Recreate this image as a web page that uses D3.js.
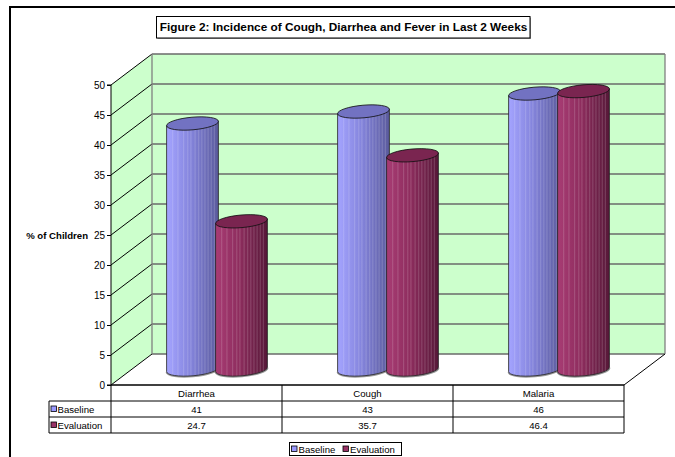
<!DOCTYPE html>
<html><head><meta charset="utf-8">
<script src="https://cdn.jsdelivr.net/npm/d3@7"></script>
<style>body{margin:0;background:#fff}svg{display:block}text{font-family:"Liberation Sans",Arial,sans-serif}</style>
</head><body><svg id="c" width="675" height="457"></svg>
<script>
const title = "Figure 2: Incidence of Cough, Diarrhea and Fever in Last 2 Weeks";
const categories = ["Diarrhea", "Cough", "Malaria"];
const seriesNames = ["Baseline", "Evaluation"];
const baseline = [41, 43, 46];
const evaluation = [24.7, 35.7, 46.4];
const yTicks = [0, 5, 10, 15, 20, 25, 30, 35, 40, 45, 50];
const yLabel = "% of Children";

const seriesValues = [baseline, evaluation];
const colors = {
  Baseline: {light:"#a4a4ff", mid:"#8585dd", dark:"#5a5a9c", top:"#7272c2", key:"#9999ff"},
  Evaluation: {light:"#a83c74", mid:"#8e2d5e", dark:"#561838", top:"#7a2550", key:"#993366"}
};

const svg = d3.select("#c");
const defs = svg.append("defs");
const DX = 41, DY = 31;
const y = d3.scaleLinear().domain([0, 50]).range([385, 85]);
const x = d3.scaleBand().domain(categories).range([111, 624]);
const xs = d3.scaleBand().domain(seriesNames).range([-49, 49]);

// outer frame
svg.append("rect").attr("x",10).attr("y",7).attr("width",700).attr("height",500)
  .attr("fill","none").attr("stroke","#000").attr("stroke-width",2);

// back wall
const left = x.range()[0], right = x.range()[1];
svg.append("rect").attr("x",left+DX).attr("y",y(50)-DY).attr("width",right-left)
  .attr("height",y(0)-y(50)).attr("fill","#ccffcc");
// side wall
svg.append("path").attr("d",`M${left},${y(50)}L${left+DX},${y(50)-DY}L${left+DX},${y(0)-DY}L${left},${y(0)}Z`)
  .attr("fill","#ccffcc");
// floor
svg.append("path").attr("d",`M${left},${y(0)}L${left+DX},${y(0)-DY}L${right+DX},${y(0)-DY}L${right},${y(0)}Z`)
  .attr("fill","#fff");

// back gridlines
svg.append("g").selectAll("line").data(yTicks).join("line")
  .attr("x1",left+DX).attr("x2",right+DX).attr("y1",d=>y(d)-DY).attr("y2",d=>y(d)-DY)
  .attr("stroke","#6a6a6a").attr("stroke-width",1.3);
// side gridlines
svg.append("g").selectAll("line").data(yTicks).join("line")
  .attr("x1",left).attr("x2",left+DX).attr("y1",d=>y(d)).attr("y2",d=>y(d)-DY)
  .attr("stroke","#000").attr("stroke-width",1);
// wall edges
svg.append("line").attr("x1",left+DX).attr("x2",left+DX).attr("y1",y(50)-DY).attr("y2",y(0)-DY)
  .attr("stroke","#808080").attr("stroke-width",1.3);
svg.append("line").attr("x1",right+DX).attr("x2",right+DX).attr("y1",y(50)-DY).attr("y2",y(0)-DY)
  .attr("stroke","#808080").attr("stroke-width",1.3);
svg.append("line").attr("x1",right).attr("x2",right+DX).attr("y1",y(0)).attr("y2",y(0)-DY)
  .attr("stroke","#000").attr("stroke-width",1);

// y axis
const yAxis = d3.axisLeft(y).tickValues(yTicks).tickSize(4).tickPadding(2);
const ga = svg.append("g").attr("transform",`translate(${left},0)`).call(yAxis);
ga.select(".domain").attr("stroke","#000").attr("d",`M-4,${y(50)}H0V${y(0)}H-4`);
ga.selectAll("text").attr("font-size",10).attr("font-family","Liberation Sans, Arial, sans-serif").attr("fill","#000");
ga.selectAll("line").attr("stroke","#000");

svg.append("text").attr("x",88).attr("y",y(25)+4).attr("text-anchor","end")
  .attr("font-size",9.6).attr("font-weight","bold").text(yLabel);

// gradients
seriesNames.forEach((s,i)=>{
  const g = defs.append("linearGradient").attr("id","grad"+i).attr("x1",0).attr("x2",1).attr("y1",0).attr("y2",0);
  g.append("stop").attr("offset","0%").attr("stop-color",colors[s].light);
  g.append("stop").attr("offset","45%").attr("stop-color",colors[s].mid);
  g.append("stop").attr("offset","100%").attr("stop-color",colors[s].dark);
});

// cylinders
const RX = 26, RY = 6.3, TH = -5 * Math.PI/180;
const stripeFr = [0.12,0.22,0.33,0.41,0.47,0.55,0.62,0.68,0.74,0.8,0.86,0.92];
const bars = [];
categories.forEach((c,ci)=>{
  seriesNames.forEach((s,si)=>{
    bars.push({c, s, si, v: seriesValues[si][ci]});
  });
});
const gb = svg.append("g");
bars.forEach((b,k)=>{
  const cx = x(b.c) + x.bandwidth()/2 + DX/2 + xs(b.s) + xs.bandwidth()/2;
  const ty = y(b.v) - DY/2, by = y(0) - DY/2;
  const ox = RX*Math.cos(TH), oy = RX*Math.sin(TH);
  const rot = TH*180/Math.PI;
  const body = `M${cx-ox},${ty-oy}L${cx-ox},${by-oy}A${RX},${RY} ${rot} 0 0 ${cx+ox},${by+oy}L${cx+ox},${ty+oy}Z`;
  const g = gb.append("g");
  const cid = "clip"+k;
  defs.append("clipPath").attr("id",cid).append("path").attr("d",body);
  // soft shadow under the base
  g.append("path").attr("d",`M${cx-ox},${by-oy+0.5}A${RX},${RY} ${rot} 0 0 ${cx+ox},${by+oy+0.5}`)
    .attr("fill","none").attr("stroke","#555").attr("stroke-width",2).attr("stroke-opacity",0.6);
  g.append("path").attr("d",body).attr("fill",`url(#grad${b.si})`);
  g.append("g").attr("clip-path",`url(#${cid})`).selectAll("line").data(stripeFr).join("line")
    .attr("x1",f=>cx-RX+2*RX*f).attr("x2",f=>cx-RX+2*RX*f).attr("y1",ty-10).attr("y2",by+10)
    .attr("stroke","#fff").attr("stroke-opacity",0.18).attr("stroke-width",1);
  g.append("path").attr("d",body).attr("fill","none").attr("stroke","#222").attr("stroke-width",0.8);
  g.append("ellipse").attr("cx",cx).attr("cy",ty).attr("rx",RX).attr("ry",RY)
    .attr("transform",`rotate(${rot},${cx},${ty})`)
    .attr("fill",colors[b.s].top).attr("stroke","#111").attr("stroke-width",0.8);
});

// data table
const rowTop = y(0), rowH = 16, fs = 9.6;
const gt = svg.append("g");
const tl = (x1,y1,x2,y2,w)=>gt.append("line").attr("x1",x1).attr("y1",y1).attr("x2",x2).attr("y2",y2)
  .attr("stroke","#000").attr("stroke-width",w||1);
tl(left, rowTop, right, rowTop, 1.5);
tl(left, rowTop+rowH, right, rowTop+rowH);
tl(49, rowTop+rowH, left, rowTop+rowH);
tl(49, rowTop+2*rowH, right, rowTop+2*rowH);
tl(49, rowTop+3*rowH, right, rowTop+3*rowH);
tl(49, rowTop+rowH, 49, rowTop+3*rowH);
tl(left, rowTop, left, rowTop+3*rowH);
categories.forEach(c=>{ tl(x(c)+x.bandwidth(), rowTop, x(c)+x.bandwidth(), rowTop+3*rowH); });
gt.selectAll("text.cat").data(categories).join("text").attr("class","cat")
  .attr("x",c=>x(c)+x.bandwidth()/2).attr("y",rowTop+rowH/2+3.5).attr("text-anchor","middle")
  .attr("font-size",fs).text(c=>c);
seriesNames.forEach((s,si)=>{
  const ry = rowTop+rowH*(si+1);
  gt.append("rect").attr("x",51).attr("y",ry+5).attr("width",5.5).attr("height",5.5)
    .attr("fill",colors[s].key).attr("stroke","#000").attr("stroke-width",0.8);
  gt.append("text").attr("x",57.5).attr("y",ry+rowH/2+3.5).attr("font-size",fs).text(s);
  gt.selectAll(null).data(categories).join("text")
    .attr("x",c=>x(c)+x.bandwidth()/2).attr("y",ry+rowH/2+3.5).attr("text-anchor","middle")
    .attr("font-size",fs).text((c,ci)=>seriesValues[si][ci]);
});

// legend
const gl = svg.append("g");
gl.append("rect").attr("x",289.5).attr("y",442.5).attr("width",112).attr("height",13)
  .attr("fill","#fff").attr("stroke","#000").attr("stroke-width",1);
const lx = [291.5, 343];
seriesNames.forEach((s,i)=>{
  gl.append("rect").attr("x",lx[i]).attr("y",446).attr("width",5.5).attr("height",5.5)
    .attr("fill",colors[s].key).attr("stroke","#000").attr("stroke-width",0.8);
  gl.append("text").attr("x",lx[i]+7).attr("y",452.5).attr("font-size",fs).text(s);
});

// title
const gT = svg.append("g");
gT.append("rect").attr("x",157.5).attr("y",17.5).attr("width",373.5).attr("height",21.5).attr("fill","#999");
gT.append("rect").attr("x",156.5).attr("y",16.5).attr("width",373.5).attr("height",21.5)
  .attr("fill","#fff").attr("stroke","#000").attr("stroke-width",1);
gT.append("text").attr("x",343.5).attr("y",31.2).attr("text-anchor","middle")
  .attr("font-size",11.8).attr("font-weight","bold").text(title);
</script></body></html>
